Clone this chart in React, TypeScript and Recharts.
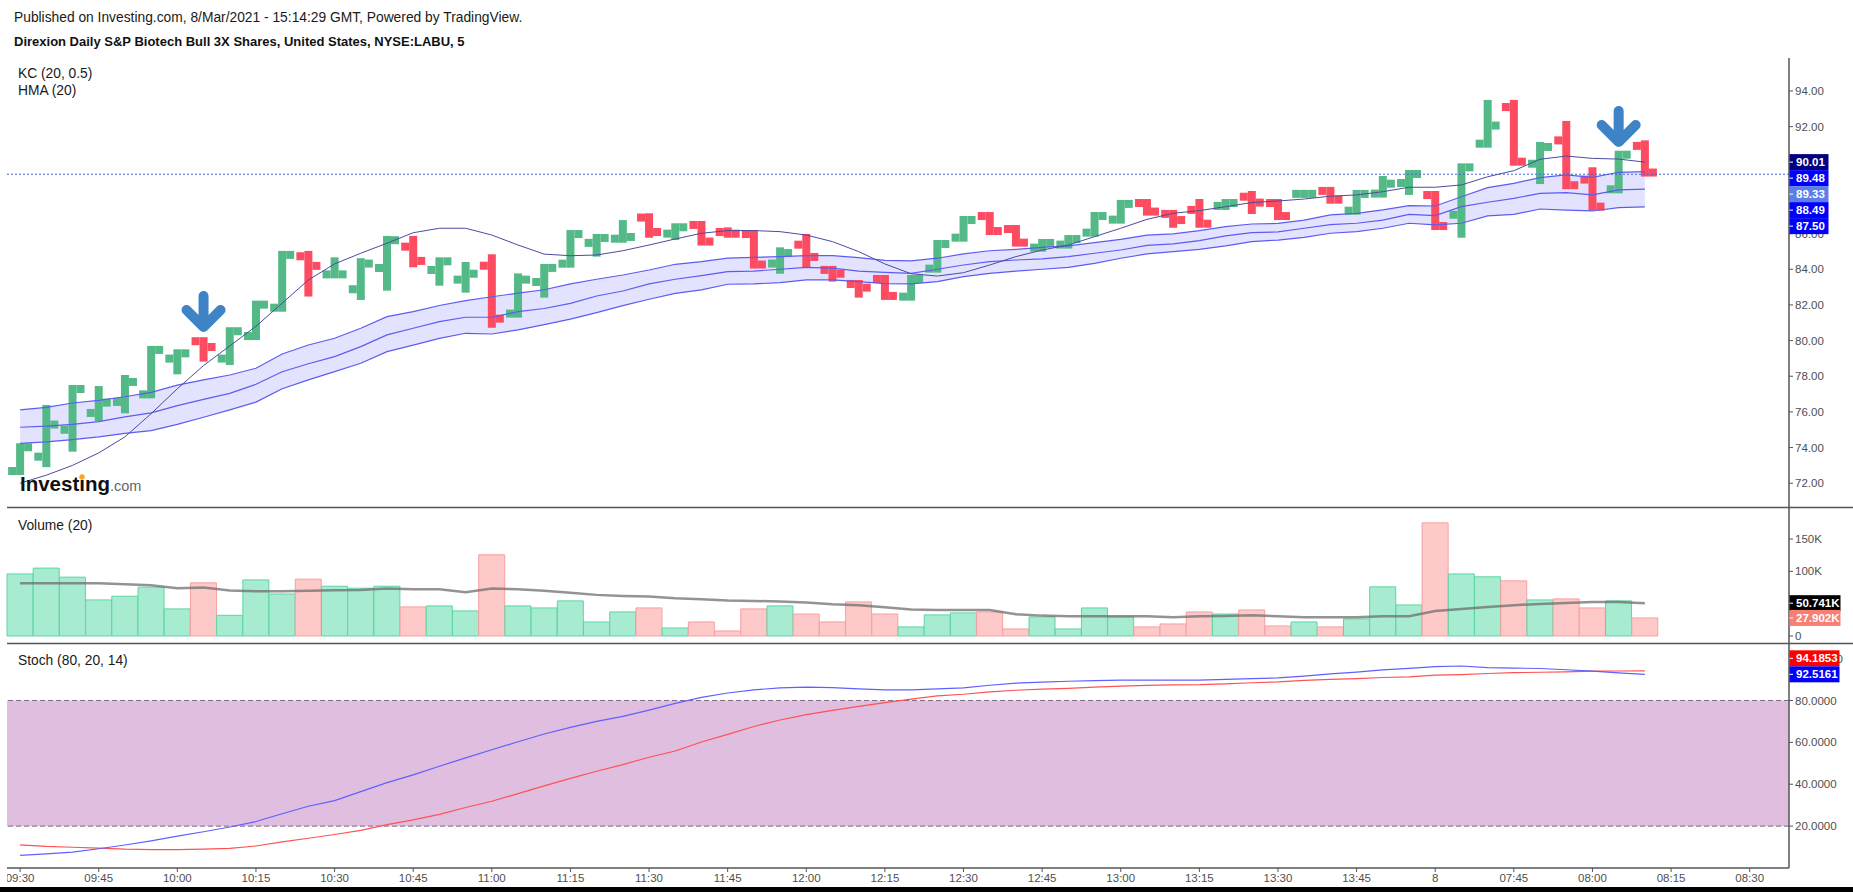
import React from "react";
import {
  ComposedChart,
  Bar,
  Line,
  Area,
  XAxis,
  YAxis,
  ReferenceLine,
  ReferenceDot,
  ReferenceArea,
  Cell,
} from "recharts";

const FONT = "'Liberation Sans', Arial, Helvetica, sans-serif";
const WIDTH = 1853;
const PLOT_LEFT = 7;
const AXIS_W = 64;

const UP = "#53b987";
const DOWN = "#fd4b61";
const TICK_COLOR = "#4f4f4f";
const AXIS_COLOR = "#555555";

// 5-minute sessions: 5 Mar 09:30-13:55, then 8 Mar from 07:30
const times = [
  "09:30", "09:35", "09:40", "09:45", "09:50", "09:55",
  "10:00", "10:05", "10:10", "10:15", "10:20", "10:25", "10:30", "10:35", "10:40", "10:45", "10:50", "10:55",
  "11:00", "11:05", "11:10", "11:15", "11:20", "11:25", "11:30", "11:35", "11:40", "11:45", "11:50", "11:55",
  "12:00", "12:05", "12:10", "12:15", "12:20", "12:25", "12:30", "12:35", "12:40", "12:45", "12:50", "12:55",
  "13:00", "13:05", "13:10", "13:15", "13:20", "13:25", "13:30", "13:35", "13:40", "13:45", "13:50", "13:55",
  "07:30", "07:35", "07:40", "07:45", "07:50", "07:55", "08:00", "08:05", "08:10", "08:15", "08:20", "08:25", "08:30", "08:35",
];
const dayBreakTime = "07:30";
const dayBreakLabel = "8";

const opens = [
  72.46, 73.49, 75.0, 75.94, 76.56, 76.76, 78.99, 80.19, 78.99, 80.03,
  81.62, 84.73, 83.55, 82.88, 84.07, 85.27, 83.96, 83.42, 84.2, 81.29,
  83.29, 84.09, 85.48, 85.49, 86.9, 86.0, 86.71, 86.09, 86.2, 84.32,
  85.38, 84.19, 83.4, 83.68, 82.24, 83.81, 85.55, 87.21, 86.48, 84.99,
  85.16, 85.83, 86.56, 87.94, 87.33, 87.33, 87.33, 88.07, 87.94, 88.2,
  88.62, 87.06, 88.24, 88.84, 88.39, 87.06, 90.82, 93.1, 89.92, 91.23,
  89.03, 88.26, 90.92,
];
const highs = [
  74.24, 76.39, 77.51, 77.45, 78.07, 79.7, 79.51, 80.19, 80.75, 82.24,
  85.03, 85.03, 84.67, 84.62, 85.87, 85.87, 84.67, 84.41, 84.84, 83.77,
  84.3, 86.2, 85.98, 86.76, 87.14, 86.58, 86.71, 86.35, 86.2, 85.23,
  85.98, 84.19, 83.4, 83.68, 83.68, 85.64, 86.99, 87.21, 86.48, 85.7,
  85.92, 87.21, 87.89, 87.94, 87.33, 87.94, 87.94, 88.39, 87.94, 88.28,
  88.62, 88.45, 89.23, 89.57, 88.39, 89.94, 93.5, 93.5, 91.14, 92.32,
  89.72, 90.65, 91.23,
];
const lows = [
  72.46, 72.9, 73.77, 75.49, 75.92, 76.76, 78.11, 78.82, 78.63, 80.03,
  81.62, 82.47, 83.49, 82.28, 82.8, 84.11, 83.08, 82.69, 80.72, 81.29,
  82.41, 84.09, 84.71, 85.49, 85.77, 85.64, 85.33, 85.77, 84.04, 83.75,
  84.09, 83.31, 82.41, 82.28, 82.24, 83.81, 85.55, 85.92, 85.27, 84.99,
  85.16, 85.83, 86.56, 87.01, 86.33, 86.33, 87.33, 87.1, 86.76, 88.18,
  87.68, 87.06, 88.02, 88.17, 86.2, 85.77, 90.82, 89.81, 88.78, 88.49,
  87.29, 88.26, 89.2,
];
const closes = [
  74.24, 75.29, 77.51, 76.52, 77.68, 79.7, 79.45, 79.64, 80.75, 82.24,
  85.03, 84.19, 83.62, 84.32, 85.63, 84.47, 84.67, 83.75, 81.23, 83.42,
  84.3, 86.2, 85.98, 85.81, 86.09, 86.58, 85.33, 85.77, 84.2, 84.91,
  84.69, 83.75, 82.97, 82.28, 83.68, 85.64, 86.99, 85.92, 85.27, 85.7,
  85.92, 87.21, 87.89, 87.01, 86.76, 86.33, 87.94, 87.74, 86.76, 88.26,
  87.68, 88.45, 88.8, 89.57, 86.2, 89.94, 92.06, 89.81, 90.86, 88.49,
  87.29, 90.65, 89.33,
];

// Keltner channel (20, 0.5)
const kcUpper = [
  76.11, 76.25, 76.5, 76.65, 76.85, 77.1, 77.5, 77.8, 78.07, 78.45,
  79.25, 79.75, 80.13, 80.69, 81.34, 81.62, 81.97, 82.24, 82.46, 82.66,
  82.85, 83.18, 83.44, 83.68, 83.96, 84.28, 84.43, 84.62, 84.67, 84.71,
  84.76, 84.76, 84.65, 84.5, 84.47, 84.62, 84.86, 85.04, 85.12, 85.23,
  85.31, 85.49, 85.68, 85.92, 85.99, 86.17, 86.39, 86.54, 86.57, 86.76,
  87.05, 87.14, 87.33, 87.57, 87.55, 88.07, 88.58, 88.82, 89.14, 89.29,
  89.16, 89.44, 89.48,
];
const kcMiddle = [
  75.14, 75.2, 75.3, 75.45, 75.72, 75.95, 76.35, 76.7, 77.04, 77.55,
  78.25, 78.7, 79.1, 79.66, 80.32, 80.69, 81.06, 81.31, 81.31, 81.62,
  81.8, 82.09, 82.5, 82.78, 83.18, 83.44, 83.64, 83.87, 83.9, 84.0,
  84.11, 84.06, 83.9, 83.83, 83.77, 84.0, 84.24, 84.43, 84.52, 84.58,
  84.71, 84.9, 85.08, 85.34, 85.42, 85.61, 85.87, 86.05, 86.1, 86.3,
  86.5, 86.58, 86.76, 87.08, 87.01, 87.51, 87.76, 87.98, 88.26, 88.3,
  88.17, 88.45, 88.49,
];
const kcLower = [
  74.24, 74.32, 74.45, 74.6, 74.8, 74.95, 75.3, 75.7, 76.11, 76.55,
  77.3, 77.8, 78.26, 78.73, 79.38, 79.75, 80.12, 80.41, 80.37, 80.6,
  80.9, 81.2, 81.57, 81.96, 82.32, 82.65, 82.84, 83.16, 83.18, 83.25,
  83.4, 83.4, 83.31, 83.2, 83.18, 83.31, 83.59, 83.77, 83.9, 84.0,
  84.11, 84.33, 84.62, 84.86, 84.99, 85.12, 85.31, 85.55, 85.64, 85.79,
  86.02, 86.11, 86.3, 86.58, 86.49, 86.58, 86.99, 87.08, 87.38, 87.32,
  87.27, 87.46, 87.5,
];
// Hull moving average (20)
const hma = [
  72.0, 72.45, 73.0, 73.7, 74.6, 75.9, 77.3, 78.6, 79.7, 80.8,
  82.1, 83.4, 84.3, 84.9, 85.46, 86.05, 86.3, 86.3, 85.92, 85.36,
  84.85, 84.76, 84.8, 85.04, 85.36, 85.7, 86.02, 86.17, 86.17, 86.11,
  85.92, 85.55, 84.99, 84.3, 83.75, 83.62, 83.81, 84.24, 84.71, 85.08,
  85.36, 85.83, 86.3, 86.8, 87.14, 87.29, 87.51, 87.74, 87.83, 87.94,
  88.1, 88.17, 88.35, 88.6, 88.6, 88.73, 89.19, 89.53, 90.17, 90.35,
  90.22, 90.18, 90.01,
];

const volumes = [
  96000, 105000, 91000, 55800, 61500, 75500, 41900, 82200, 32000, 86800,
  65000, 87900, 77000, 73900, 77000, 45000, 46500, 38800, 125600, 46500,
  43400, 54300, 21700, 37200, 43400, 12400, 21700, 7800, 41900, 46500,
  34000, 21700, 52700, 34000, 14000, 32600, 35700, 37200, 10900, 29500,
  10900, 43400, 29500, 14000, 18600, 37200, 34000, 40300, 15500, 21700,
  14000, 26400, 76000, 48000, 175000, 96000, 91500, 85300, 55800, 57400,
  43400, 54300, 27902,
];
const volumeMa = [
  81700, 81700, 81700, 81500, 80100, 78600, 73900, 74900, 70300, 69300,
  69300, 69800, 70800, 71300, 73400, 72400, 72400, 67700, 73400, 72400,
  69800, 66700, 63600, 62000, 61000, 58400, 56800, 54800, 54300, 53200,
  51700, 49100, 47600, 44500, 40800, 40300, 40300, 40300, 33600, 31500,
  30500, 30500, 30500, 30500, 29000, 30500, 31000, 32000, 30500, 29000,
  29000, 29000, 30500, 30500, 38800, 41900, 45000, 47600, 49600, 51200,
  52700, 52700, 50741,
];

// Stochastic (80, 20, 14)
const stochK = [
  6.0, 6.7, 7.6, 9.2, 11.0, 13.0, 15.2, 17.3, 19.6, 22.2,
  25.9, 29.5, 32.2, 36.5, 40.8, 44.5, 48.6, 52.6, 56.5, 60.3,
  64.0, 67.2, 70.0, 72.4, 75.4, 78.6, 81.5, 83.6, 85.1, 86.0,
  86.4, 86.2, 85.6, 85.1, 85.1, 85.6, 86.0, 87.3, 88.3, 88.8,
  89.2, 89.5, 89.7, 89.7, 89.7, 89.7, 90.1, 90.5, 90.8, 91.7,
  92.7, 93.6, 94.6, 95.4, 96.2, 96.5, 95.7, 95.5, 95.3, 94.7,
  94.0, 93.2, 92.5161,
];
const stochD = [
  11.0, 10.3, 9.9, 9.5, 9.0, 8.8, 8.8, 9.0, 9.4, 10.5,
  12.5, 14.2, 16.0, 18.0, 20.7, 23.0, 25.6, 28.9, 31.9, 35.5,
  39.2, 42.8, 46.2, 49.4, 52.9, 55.9, 60.2, 63.8, 67.6, 70.7,
  73.3, 75.3, 77.2, 79.0, 80.7, 82.2, 83.0, 84.1, 84.9, 85.4,
  85.8, 86.4, 86.9, 87.2, 87.5, 87.6, 88.0, 88.5, 88.9, 89.6,
  90.1, 90.5, 91.0, 91.3, 92.1, 92.4, 92.9, 93.3, 93.5, 93.7,
  94.0, 94.1, 94.1853,
];

// Signal arrows: bar index and the price level of the arrow tip
const signalIndex = [7, 61];
const signalLevel = [80.76, 91.14];

const priceTicks = [72, 74, 76, 78, 80, 82, 84, 86, 88, 90, 92, 94];
const volumeTicks = [0, 50000, 100000, 150000];
const stochTicks = [20, 40, 60, 80, 100];

const PRICE_DOMAIN: [number, number] = [70.61, 95.85];
const VOLUME_DOMAIN: [number, number] = [-12400, 198000];
const STOCH_DOMAIN: [number, number] = [0, 107];

const rows = times.map((t, i) => ({
  t,
  open: opens[i],
  high: highs[i],
  low: lows[i],
  close: closes[i],
  kcUpper: kcUpper[i],
  kcMiddle: kcMiddle[i],
  kcLower: kcLower[i],
  hma: hma[i],
  volume: volumes[i],
  volumeMa: volumeMa[i],
  stochK: stochK[i],
  stochD: stochD[i],
}));

const last = closes.length - 1;

// Thick OHLC bar: vertical high-low stroke, open tick left, close tick right
const OhlcShape = (props: any) => {
  const { x, y, width, height, payload } = props;
  if (!payload || payload.high == null || x == null || y == null) return null;
  const top = Math.min(y, y + height);
  const bottom = Math.max(y, y + height);
  const { open, high, low, close } = payload;
  const span = high - low;
  const toY = (p: number) => (span > 0 ? top + ((high - p) / span) * (bottom - top) : top);
  const cx = x + width / 2;
  const t = 8;
  let vTop = top;
  let vBottom = bottom;
  if (vBottom - vTop < t) {
    const m = (vTop + vBottom) / 2;
    vTop = m - t / 2;
    vBottom = m + t / 2;
  }
  const tickY = (p: number) => Math.min(Math.max(toY(p) - t / 2, vTop), vBottom - t);
  const color = close >= open ? UP : DOWN;
  return (
    <g fill={color}>
      <rect x={cx - t / 2} y={vTop} width={t} height={vBottom - vTop} />
      <rect x={cx - t / 2 - t} y={tickY(open)} width={t} height={t} />
      <rect x={cx + t / 2} y={tickY(close)} width={t} height={t} />
    </g>
  );
};

const SignalArrow = (props: any) => {
  const { cx, cy } = props;
  if (cx == null || cy == null) return null;
  return (
    <path
      d={`M${cx},${cy - 31} L${cx},${cy - 3} M${cx - 17},${cy - 17} L${cx},${cy} L${cx + 17},${cy - 17}`}
      stroke="#3d83c6"
      strokeWidth={10}
      strokeLinecap="round"
      strokeLinejoin="round"
      fill="none"
    />
  );
};

// Value tag drawn on the right price scale
const tag =
  (text: string, bg: string, w: number, shift = 0) =>
  (props: any) => {
    const vb = props.viewBox || {};
    if (vb.x == null) return null;
    const left = vb.x + vb.width + 0.5;
    const cy = vb.y + shift;
    return (
      <g>
        <rect x={left} y={cy - 8} width={w} height={16} fill={bg} />
        <line x1={left} x2={left + 3.5} y1={cy} y2={cy} stroke="#ffffff" strokeWidth={1} />
        <text x={left + 6.5} y={cy} dy="0.36em" fill="#ffffff" fontSize={11.5} fontWeight={700}>
          {text}
        </text>
      </g>
    );
  };

const yTick = { fill: TICK_COLOR, fontSize: 11.5 };
const volumeLabel = (v: number) => (v === 0 ? "0" : `${Math.round(v / 1000)}K`);
const kLabel = (v: number) => `${(v / 1000).toFixed(3)}K`;

// Transparent layer sharing a pane's scales, used to stack tags above the axis text
const TagLayer = ({
  top,
  height,
  domain,
  children,
}: {
  top: number;
  height: number;
  domain: [number, number];
  children: React.ReactNode;
}) => (
  <div style={{ position: "absolute", left: 0, top, pointerEvents: "none" }}>
    <ComposedChart
      width={WIDTH}
      height={height}
      data={rows}
      margin={{ top: 0, right: AXIS_W, bottom: 0, left: PLOT_LEFT }}
    >
      <XAxis dataKey="t" scale="band" hide />
      <YAxis hide domain={domain} allowDataOverflow />
      {children}
    </ComposedChart>
  </div>
);

export default function App() {
  return (
    <div
      style={{
        position: "absolute",
        left: 0,
        top: 0,
        width: WIDTH,
        height: 892,
        background: "#ffffff",
        fontFamily: FONT,
        overflow: "hidden",
      }}
    >
      {/* Price pane */}
      <div style={{ position: "absolute", left: 0, top: 0 }}>
        <ComposedChart
          width={WIDTH}
          height={508}
          data={rows}
          margin={{ top: 58, right: 0, bottom: 0, left: PLOT_LEFT }}
        >
          <XAxis dataKey="t" scale="band" hide />
          <YAxis
            orientation="right"
            width={AXIS_W}
            domain={PRICE_DOMAIN}
            allowDataOverflow
            ticks={priceTicks}
            interval={0}
            tickFormatter={(v: number) => v.toFixed(2)}
            tick={yTick}
            tickSize={4}
            tickLine={{ stroke: AXIS_COLOR }}
            axisLine={{ stroke: AXIS_COLOR, strokeWidth: 1.5 }}
          />
          <Area
            dataKey={(d: any) => (d.kcUpper == null ? null : [d.kcLower, d.kcUpper])}
            type="linear"
            stroke="none"
            fill="#6666ff"
            fillOpacity={0.18}
            isAnimationActive={false}
          />
          <Line dataKey="kcUpper" type="linear" stroke="#5c5cf2" strokeWidth={1.2} dot={false} isAnimationActive={false} />
          <Line dataKey="kcMiddle" type="linear" stroke="#5c5cf2" strokeWidth={1.2} dot={false} isAnimationActive={false} />
          <Line dataKey="kcLower" type="linear" stroke="#5c5cf2" strokeWidth={1.2} dot={false} isAnimationActive={false} />
          <Line dataKey="hma" type="linear" stroke="#4b4b9e" strokeWidth={1} dot={false} isAnimationActive={false} />
          <ReferenceLine y={closes[last]} stroke="#4466d4" strokeDasharray="2 2" strokeWidth={1} />
          <Bar
            dataKey={(d: any) => (d.high == null ? null : [d.low, d.high])}
            shape={OhlcShape}
            isAnimationActive={false}
          />
          {signalIndex.map((idx, k) => (
            <ReferenceDot key={k} x={times[idx]} y={signalLevel[k]} r={0} shape={SignalArrow} />
          ))}
        </ComposedChart>
      </div>
      <TagLayer top={58} height={450} domain={PRICE_DOMAIN}>
        <ReferenceLine y={hma[last]} stroke="none" label={tag(hma[last].toFixed(2), "#000080", 39, 0)} />
        <ReferenceLine y={hma[last]} stroke="none" label={tag(kcUpper[last].toFixed(2), "#0000ff", 39, 16)} />
        <ReferenceLine y={hma[last]} stroke="none" label={tag(closes[last].toFixed(2), "#5b7ee9", 39, 32)} />
        <ReferenceLine y={hma[last]} stroke="none" label={tag(kcMiddle[last].toFixed(2), "#0000ff", 39, 48)} />
        <ReferenceLine y={hma[last]} stroke="none" label={tag(kcLower[last].toFixed(2), "#0000ff", 39, 64)} />
      </TagLayer>

      {/* Volume pane */}
      <div style={{ position: "absolute", left: 0, top: 508 }}>
        <ComposedChart
          width={WIDTH}
          height={136}
          data={rows}
          barCategoryGap={0}
          margin={{ top: 0, right: 0, bottom: 0, left: PLOT_LEFT }}
        >
          <XAxis dataKey="t" scale="band" hide />
          <YAxis
            orientation="right"
            width={AXIS_W}
            domain={VOLUME_DOMAIN}
            allowDataOverflow
            ticks={volumeTicks}
            interval={0}
            tickFormatter={volumeLabel}
            tick={yTick}
            tickSize={4}
            tickLine={{ stroke: AXIS_COLOR }}
            axisLine={{ stroke: AXIS_COLOR, strokeWidth: 1.5 }}
          />
          <Bar dataKey="volume" isAnimationActive={false} strokeWidth={1}>
            {rows.map((r, i) => {
              const up = r.close != null && r.close >= r.open;
              return (
                <Cell
                  key={i}
                  fill={up ? "#a7ecd1" : "#fdc9c9"}
                  stroke={up ? "#5cd6a2" : "#f6a0a0"}
                />
              );
            })}
          </Bar>
          <Line
            dataKey="volumeMa"
            type="linear"
            stroke="#6f6f6f"
            strokeOpacity={0.75}
            strokeWidth={2.5}
            dot={false}
            isAnimationActive={false}
          />
        </ComposedChart>
      </div>
      <TagLayer top={508} height={136} domain={VOLUME_DOMAIN}>
        <ReferenceLine y={volumeMa[last]} stroke="none" label={tag(kLabel(volumeMa[last]), "#000000", 51, 0)} />
        <ReferenceLine y={volumes[last]} stroke="none" label={tag(kLabel(volumes[last]), "#f88072", 51, 0)} />
      </TagLayer>

      {/* Stochastic pane */}
      <div style={{ position: "absolute", left: 0, top: 644 }}>
        <ComposedChart
          width={WIDTH}
          height={243}
          data={rows}
          margin={{ top: 0, right: 0, bottom: 0, left: PLOT_LEFT }}
        >
          <XAxis
            dataKey="t"
            scale="band"
            interval={2}
            height={19}
            tickFormatter={(t: string) => (t === dayBreakTime ? dayBreakLabel : t)}
            tick={{ fill: TICK_COLOR, fontSize: 11.5 }}
            tickSize={4}
            tickLine={{ stroke: AXIS_COLOR }}
            axisLine={{ stroke: AXIS_COLOR, strokeWidth: 1.5 }}
          />
          <YAxis
            orientation="right"
            width={AXIS_W}
            domain={STOCH_DOMAIN}
            allowDataOverflow
            ticks={stochTicks}
            interval={0}
            tickFormatter={(v: number) => v.toFixed(4)}
            tick={yTick}
            tickSize={4}
            tickLine={{ stroke: AXIS_COLOR }}
            axisLine={{ stroke: AXIS_COLOR, strokeWidth: 1.5 }}
          />
          <ReferenceArea y1={20} y2={80} fill="#dfbedf" fillOpacity={1} stroke="none" />
          <ReferenceLine y={80} stroke="#7d6c80" strokeDasharray="5 3" />
          <ReferenceLine y={20} stroke="#7d6c80" strokeDasharray="5 3" />
          <Line dataKey="stochD" type="linear" stroke="#ff5252" strokeWidth={1.2} dot={false} isAnimationActive={false} />
          <Line dataKey="stochK" type="linear" stroke="#6060ff" strokeWidth={1.2} dot={false} isAnimationActive={false} />
        </ComposedChart>
      </div>
      <TagLayer top={644} height={224} domain={STOCH_DOMAIN}>
        <ReferenceLine y={stochK[last]} stroke="none" label={tag(stochD[last].toFixed(4), "#ff0000", 50, -16)} />
        <ReferenceLine y={stochK[last]} stroke="none" label={tag(stochK[last].toFixed(4), "#0000ff", 50, 0)} />
      </TagLayer>

      {/* Headers, pane separators and watermark */}
      <svg
        width={WIDTH}
        height={892}
        style={{ position: "absolute", left: 0, top: 0, pointerEvents: "none" }}
      >
        <text x={14} y={21.5} fontSize={13.8} fill="#1a1a1a">
          Published on Investing.com, 8/Mar/2021 - 15:14:29 GMT, Powered by TradingView.
        </text>
        <text x={14} y={46} fontSize={13} fontWeight={700} fill="#111111">
          Direxion Daily S&amp;P Biotech Bull 3X Shares, United States, NYSE:LABU, 5
        </text>
        <text x={18} y={77.5} fontSize={13.8} fill="#1a1a1a">KC (20, 0.5)</text>
        <text x={18} y={94.5} fontSize={13.8} fill="#1a1a1a">HMA (20)</text>
        <text x={18} y={529.5} fontSize={13.8} fill="#1a1a1a">Volume (20)</text>
        <text x={18} y={664.5} fontSize={13.8} fill="#1a1a1a">Stoch (80, 20, 14)</text>

        <line x1={PLOT_LEFT} x2={WIDTH} y1={507.5} y2={507.5} stroke={AXIS_COLOR} strokeWidth={1.5} />
        <line x1={PLOT_LEFT} x2={WIDTH} y1={643.5} y2={643.5} stroke={AXIS_COLOR} strokeWidth={1.5} />

        <rect x={0} y={869} width={PLOT_LEFT} height={18} fill="#ffffff" />
        <rect x={0} y={887} width={WIDTH} height={5} fill="#000000" />

        <text x={20} y={490.5} fontSize={20.5} fontWeight={700} fill="#111111">Investing</text>
        <circle cx={82} cy={477} r={2.7} fill="#f5a623" />
        <text x={110} y={490.5} fontSize={14.5} fill="#666666">.com</text>
      </svg>
    </div>
  );
}
